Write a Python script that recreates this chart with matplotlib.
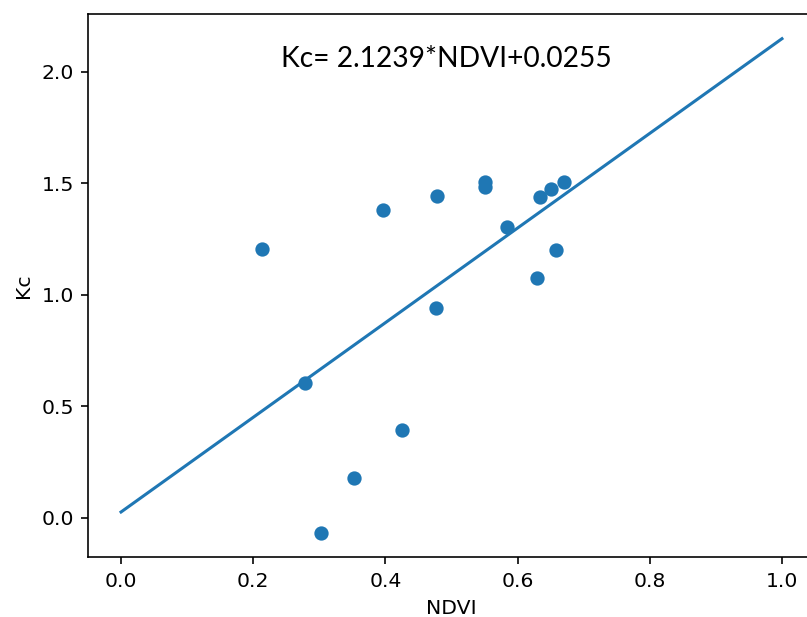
import numpy as np
import matplotlib.pyplot as plt

ndvi = [0.214, 0.279, 0.302, 0.352, 0.396, 0.425, 0.478, 0.477,
        0.551, 0.551, 0.584, 0.629, 0.634, 0.651, 0.658, 0.670]
kc = [1.204, 0.606, -0.067, 0.178, 1.379, 0.395, 1.442, 0.943,
      1.506, 1.484, 1.303, 1.075, 1.438, 1.477, 1.203, 1.506]

slope = 2.1239
intercept = 0.0255


def plot_kc():
    dpi = 147
    fig = plt.figure(figsize=(807 / dpi, 617 / dpi), dpi=dpi)
    ax = fig.add_axes([88 / 807, 59.7 / 617, 727 / 807, 543.3 / 617])

    x = np.array([0.0, 1.0])
    ax.scatter(ndvi, kc)
    ax.plot(x, slope * x + intercept)

    ax.text(0.242, 2.022, "Kc= 2.1239*NDVI+0.0255", fontsize=13.8,
            family=["Lato", "DejaVu Sans"], va="baseline")

    ax.set_xlabel("NDVI")
    ax.set_ylabel("Kc")
    fig.savefig("out.png", dpi=dpi)


plot_kc()
